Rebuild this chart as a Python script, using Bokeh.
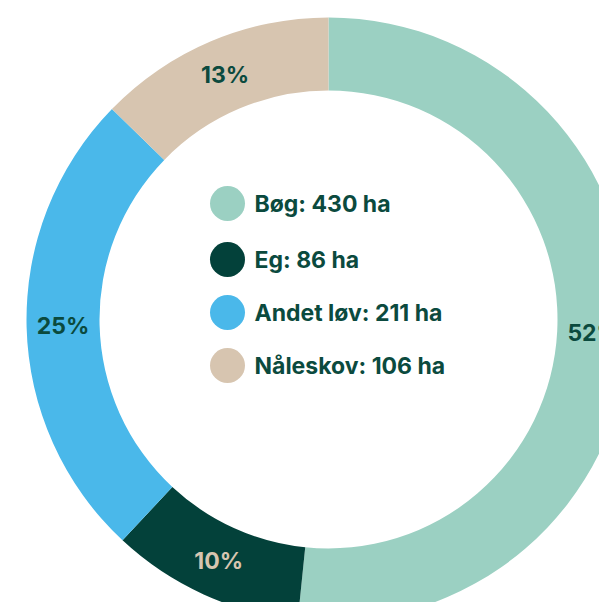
import math
from bokeh.plotting import figure
from bokeh.models import Range1d, ColumnDataSource
from bokeh.core.properties import value
from bokeh.embed import file_html
from bokeh.resources import INLINE

categories = ["Bøg", "Eg", "Andet løv", "Nåleskov"]
hectares = [430, 86, 211, 106]
colors = ["#9bd0c2", "#03413a", "#4ab8ea", "#d7c5b0"]
label_colors = ["#0b4a3e", "#d7c5b0", "#0b4a3e", "#0b4a3e"]

total = sum(hectares)
fracs = [h / total for h in hectares]

# clockwise from 12 o'clock
starts, ends, lx, ly, labels = [], [], [], [], []
acc = 0.0
R_OUT, R_IN = 302, 229
R_LAB = (R_OUT + R_IN) / 2
for f in fracs:
    t1 = acc * 2 * math.pi
    t2 = (acc + f) * 2 * math.pi
    starts.append(math.pi / 2 - t2)
    ends.append(math.pi / 2 - t1)
    mid = (t1 + t2) / 2
    lx.append(R_LAB * math.sin(mid))
    ly.append(R_LAB * math.cos(mid))
    labels.append(f"{round(f * 100)}%")
    acc += f

W, H = 599, 602
p = figure(width=W, height=H, output_backend="svg", toolbar_location=None,
           x_range=Range1d(-328, -328 + W), y_range=Range1d(319 - H, 319),
           min_border=0)
p.axis.visible = False
p.grid.visible = False
p.outline_line_color = None
p.background_fill_color = "white"
p.border_fill_color = "white"

src = ColumnDataSource(dict(start=starts, end=ends, color=colors,
                            lx=lx, ly=ly, label=labels, lc=label_colors))
p.annular_wedge(x=0, y=0, inner_radius=R_IN, outer_radius=R_OUT,
                start_angle="start", end_angle="end", fill_color="color",
                line_color=None, source=src)
p.text(x="lx", y="ly", text="label", text_color="lc", source=src,
       text_font=value("Inter"), text_font_style="bold", text_font_size="23px",
       text_align="center", text_baseline="middle")

# legend in the hole
leg_y = [116, 60, 7, -46]
leg_text = [f"{c}: {h} ha" for c, h in zip(categories, hectares)]
lsrc = ColumnDataSource(dict(y=leg_y, color=colors, text=leg_text))
p.scatter(x=-101, y="y", size=35, fill_color="color", line_color=None, source=lsrc)
p.text(x=-74, y="y", text="text", source=lsrc, text_color="#0b4a3e",
       text_font=value("Inter"), text_font_style="bold", text_font_size="23px",
       text_align="left", text_baseline="middle")

open("out.html", "w").write(file_html(p, INLINE))
